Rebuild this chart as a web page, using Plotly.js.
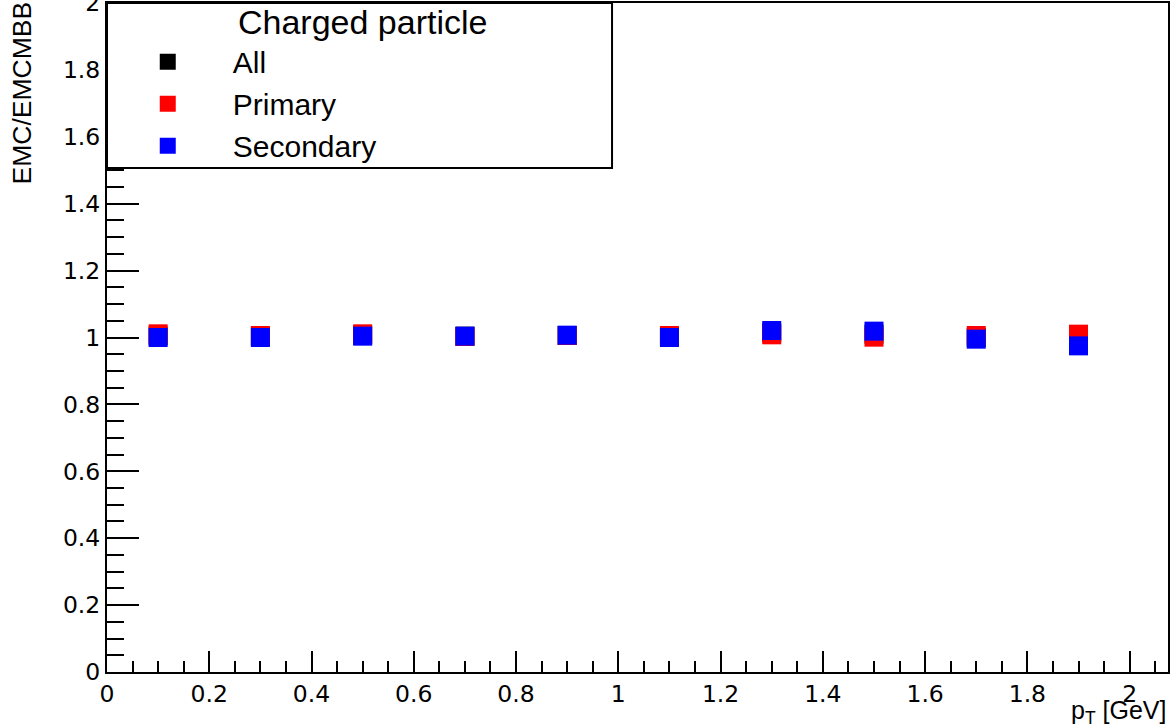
<!DOCTYPE html>
<html>
<head>
<meta charset="utf-8">
<script src="https://cdn.plot.ly/plotly-3.0.1.min.js"></script>
<style>html,body{margin:0;padding:0;background:#fff;}#chart{width:1173px;height:724px;}</style>
</head>
<body>
<div id="chart"></div>
<script>
// Data
const ptBins = [0.1, 0.3, 0.5, 0.7, 0.9, 1.1, 1.3, 1.5, 1.7, 1.9];
const ratioAll = [1.005, 1.003, 1.007, 1.004, 1.006, 1.003, 1.014, 1.010, 1.000, 0.993];
const ratioPrimary = [1.011, 1.006, 1.011, 1.003, 1.006, 1.006, 1.008, 1.001, 1.006, 1.010];
const ratioSecondary = [1.000, 1.000, 1.004, 1.004, 1.007, 1.000, 1.021, 1.019, 0.995, 0.975];
const seriesNames = ['All', 'Primary', 'Secondary'];
const xTickVals = [0, 0.2, 0.4, 0.6, 0.8, 1, 1.2, 1.4, 1.6, 1.8, 2];
const xTickText = ['0', '0.2', '0.4', '0.6', '0.8', '1', '1.2', '1.4', '1.6', '1.8', '2'];
const yTickVals = [0, 0.2, 0.4, 0.6, 0.8, 1, 1.2, 1.4, 1.6, 1.8, 2];
const yTickText = ['0', '0.2', '0.4', '0.6', '0.8', '1', '1.2', '1.4', '1.6', '1.8', '2'];
const legendTitle = 'Charged particle';
const xTitle = 'p<sub>T</sub> [GeV]';
const yTitle = 'EMC/EMCMBB';

const FONT = 'Liberation Sans, Arial, Helvetica, sans-serif';
const TICKFONT = 'DejaVu Sans, Verdana, sans-serif';
const colors = ['#000000', '#ff0000', '#0000ff'];
const series = [ratioAll, ratioPrimary, ratioSecondary];

const traces = series.map((ys, i) => ({
  type: 'scatter',
  mode: 'markers',
  name: seriesNames[i],
  x: ptBins,
  y: ys,
  marker: {symbol: 'square', size: 19, color: colors[i], line: {width: 0}},
  hoverinfo: 'x+y+name'
}));

const axisCommon = {
  showgrid: false,
  zeroline: false,
  showline: true,
  linecolor: '#000',
  linewidth: 2,
  mirror: true,
  ticks: 'inside',
  tickcolor: '#000',
  tickwidth: 2,
  tickmode: 'array',
  ticklabeloverflow: 'allow',
  tickfont: {family: TICKFONT, size: 23.5, color: '#000'}
};

const layout = {
  width: 1173,
  height: 724,
  margin: {l: 107, r: 5, t: 3, b: 52, pad: 0},
  paper_bgcolor: '#fff',
  plot_bgcolor: '#fff',
  font: {family: FONT, color: '#000'},
  showlegend: true,
  xaxis: Object.assign({}, axisCommon, {
    range: [0, 2.075],
    tickvals: xTickVals,
    ticktext: xTickText,
    ticklen: 21,
    minor: {tickmode: 'linear', tick0: 0, dtick: 0.05, ticks: 'inside', ticklen: 11, tickwidth: 2, tickcolor: '#000', showgrid: false}
  }),
  yaxis: Object.assign({}, axisCommon, {
    range: [0, 2],
    tickvals: yTickVals,
    ticktext: yTickText,
    ticklen: 32,
    minor: {tickmode: 'linear', tick0: 0, dtick: 0.05, ticks: 'inside', ticklen: 17, tickwidth: 2, tickcolor: '#000', showgrid: false}
  }),
  legend: {
    x: -0.004, xanchor: 'left',
    y: 0.951, yanchor: 'top',
    bgcolor: 'rgba(0,0,0,0)',
    borderwidth: 0,
    itemwidth: 120,
    traceorder: 'normal',
    font: {family: FONT, size: 30, color: '#000'}
  },
  shapes: [{
    type: 'rect', xref: 'paper', yref: 'paper',
    x0: 0, x1: 0.476, y0: 0.7534, y1: 1,
    line: {color: '#000', width: 2},
    fillcolor: '#fff',
    layer: 'above'
  }],
  annotations: [
    {text: legendTitle, xref: 'paper', yref: 'paper', x: 0.2405, y: 0.9716,
     xanchor: 'center', yanchor: 'middle', showarrow: false,
     font: {family: FONT, size: 34, color: '#000'}},
    {text: yTitle, xref: 'paper', yref: 'paper', x: -0.0801, y: 1.0045,
     xanchor: 'center', yanchor: 'top', textangle: -90, showarrow: false,
     font: {family: FONT, size: 26.5, color: '#000'}},
    {text: xTitle, xref: 'paper', yref: 'paper', x: 1, y: -0.0867,
     xanchor: 'right', yanchor: 'bottom', showarrow: false,
     font: {family: FONT, size: 25, color: '#000'}}
  ]
};

Plotly.newPlot('chart', traces, layout, {displayModeBar: false, staticPlot: true});
</script>
</body>
</html>
